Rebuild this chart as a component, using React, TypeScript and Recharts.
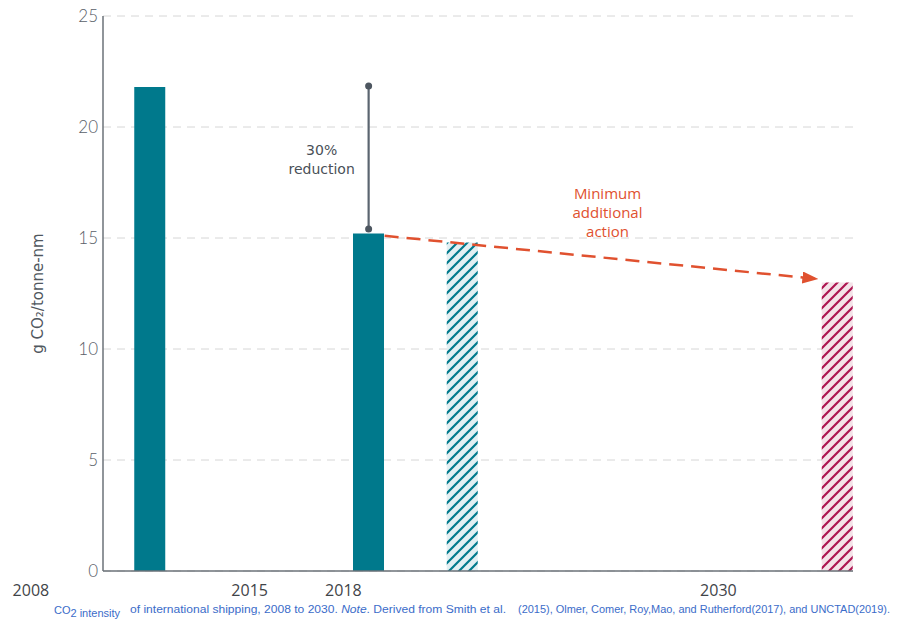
import {
  BarChart,
  Bar,
  Cell,
  XAxis,
  YAxis,
  CartesianGrid,
  ReferenceLine,
  ReferenceDot,
} from "recharts";

// category slots, one per year
const years = [
  "2007", "2008", "2009", "2010", "2011", "2012", "2013", "2014",
  "2015", "2016", "2017", "2018", "2019", "2020", "2021", "2022",
  "2023", "2024", "2025", "2026", "2027", "2028", "2029", "2030",
];
const barYears = ["2008", "2015", "2018", "2030"];
const intensity = [21.8, 15.2, 14.8, 13.0];
const barKinds = ["solid", "solid", "hatchTeal", "hatchRed"];
const labelYears = ["2008", "2015", "2018", "2030"];
const yTicks = [0, 5, 10, 15, 20, 25];

// annotations
const reductionTop = 21.85;
const reductionBottom = 15.4;
const arrowStart = 15.1;
const arrowEnd = 13.15;

const data = years.map((year) => {
  const i = barYears.indexOf(year);
  return { year, value: i >= 0 ? intensity[i] : null, kind: i >= 0 ? barKinds[i] : "" };
});

const TEAL = "#00798c";
const RED = "#e0512f";

const fillFor = (kind: string) => {
  if (kind === "hatchTeal") return "url(#hatchTeal)";
  if (kind === "hatchRed") return "url(#hatchRed)";
  return TEAL;
};

const YearTick = ({ x, y, payload }: any) => (
  <text
    x={x - 119}
    y={y + 17}
    textAnchor="middle"
    fontFamily="Open Sans"
    fontSize={16}
    fill="#3f4448"
  >
    {payload.value}
  </text>
);

const ReductionShape = (props: any) => {
  const { x1, y1, x2, y2 } = props;
  const midY = (y1 + y2) / 2;
  return (
    <g>
      <line x1={x1} y1={y1} x2={x2} y2={y2} stroke="#5b6570" strokeWidth={2.2} />
      <text
        x={x1 - 47}
        textAnchor="middle"
        fontFamily="DejaVu Sans"
        fontSize={14}
        fill="#4a5058"
        dominantBaseline="central"
      >
        <tspan x={x1 - 47} y={midY - 8}>30%</tspan>
        <tspan x={x1 - 47} y={midY + 11}>reduction</tspan>
      </text>
    </g>
  );
};

const ArrowShape = (props: any) => {
  const { x1, y1, x2, y2 } = props;
  const sx = x1 + 16;
  const ex = x2 - 19;
  const midX = (sx + ex) / 2 + 6;
  const midY = (y1 + y2) / 2;
  return (
    <g>
      <line
        x1={sx}
        y1={y1}
        x2={ex}
        y2={y2}
        stroke={RED}
        strokeWidth={2.5}
        strokeDasharray="14 8"
        markerEnd="url(#arrowRed)"
      />
      <text
        textAnchor="middle"
        fontFamily="Open Sans"
        fontSize={15}
        fill={RED}
        dominantBaseline="central"
      >
        <tspan x={midX} y={midY - 64}>Minimum</tspan>
        <tspan x={midX} y={midY - 45}>additional</tspan>
        <tspan x={midX} y={midY - 26}>action</tspan>
      </text>
    </g>
  );
};

const YLabel = ({ viewBox }: any) => {
  const cx = viewBox.x + 38;
  const cy = viewBox.y + viewBox.height / 2;
  return (
    <text
      x={cx}
      y={cy}
      transform={`rotate(-90 ${cx} ${cy})`}
      textAnchor="middle"
      dominantBaseline="central"
      fontFamily="DejaVu Sans"
      fontSize={15}
      fill="#50575e"
    >
      g CO₂/tonne-nm
    </text>
  );
};

export default function App() {
  return (
    <div style={{ position: "absolute", left: 0, top: 0, width: 897, height: 621, background: "#fff" }}>
      <svg width={0} height={0} style={{ position: "absolute" }}>
        <defs>
          <pattern id="hatchTeal" patternUnits="userSpaceOnUse" width={10} height={10}>
            <rect width={10} height={10} fill="#e2eff2" />
            <path d="M-2,2 l4,-4 M0,10 l10,-10 M8,12 l4,-4" stroke={TEAL} strokeWidth={2.2} />
          </pattern>
          <pattern id="hatchRed" patternUnits="userSpaceOnUse" width={10} height={10}>
            <rect width={10} height={10} fill="#f4e2e8" />
            <path d="M-2,2 l4,-4 M0,10 l10,-10 M8,12 l4,-4" stroke="#ad1450" strokeWidth={2.2} />
          </pattern>
          <marker
            id="arrowRed"
            viewBox="0 0 16 12"
            refX={16}
            refY={6}
            markerWidth={16}
            markerHeight={12}
            markerUnits="userSpaceOnUse"
            orient="auto"
          >
            <path d="M0,0 L16,6 L0,12 z" fill={RED} />
          </marker>
        </defs>
      </svg>
      <BarChart
        width={897}
        height={621}
        data={data}
        barCategoryGap={0}
        margin={{ top: 16, right: 44, left: 0, bottom: 20 }}
      >
        <CartesianGrid vertical={false} stroke="#d6d6d6" strokeDasharray="8 6" />
        <XAxis
          dataKey="year"
          ticks={labelYears}
          interval={0}
          tick={<YearTick />}
          tickLine={false}
          axisLine={{ stroke: "#6b7279", strokeWidth: 1.5 }}
          height={30}
        />
        <YAxis
          type="number"
          domain={[0, 25]}
          ticks={yTicks}
          width={103}
          tickLine={false}
          tickSize={0}
          tickMargin={5}
          axisLine={{ stroke: "#6b7279", strokeWidth: 1.5 }}
          tick={{ fill: "#596068", fontSize: 17, fontFamily: "Lato", fontWeight: 300 }}
          label={<YLabel />}
        />
        <Bar dataKey="value" isAnimationActive={false}>
          {data.map((d) => (
            <Cell key={d.year} fill={fillFor(d.kind)} />
          ))}
        </Bar>
        <ReferenceLine
          segment={[
            { x: "2015", y: reductionTop },
            { x: "2015", y: reductionBottom },
          ]}
          shape={<ReductionShape />}
        />
        <ReferenceDot x="2015" y={reductionTop} r={3.5} fill="#4d5660" stroke="none" />
        <ReferenceDot x="2015" y={reductionBottom} r={3.5} fill="#4d5660" stroke="none" />
        <ReferenceLine
          segment={[
            { x: "2015", y: arrowStart },
            { x: "2030", y: arrowEnd },
          ]}
          shape={<ArrowShape />}
        />
      </BarChart>
      <svg
        width={897}
        height={621}
        style={{ position: "absolute", left: 0, top: 0, pointerEvents: "none" }}
      >
        <g fontFamily="Liberation Sans" fontSize={10} fill="#3b6cc9">
          <text x={54} y={614} fontSize={11}>
            CO<tspan dy={3}>2 intensity</tspan>
          </text>
          <text x={130} y={613} textLength={376} lengthAdjust="spacingAndGlyphs">
            of international shipping, 2008 to 2030. <tspan fontStyle="italic">Note</tspan>. Derived from Smith et al.
          </text>
          <text x={518} y={613} textLength={372} lengthAdjust="spacingAndGlyphs">
            (2015), Olmer, Comer, Roy,Mao, and Rutherford(2017), and UNCTAD(2019).
          </text>
        </g>
      </svg>
    </div>
  );
}
